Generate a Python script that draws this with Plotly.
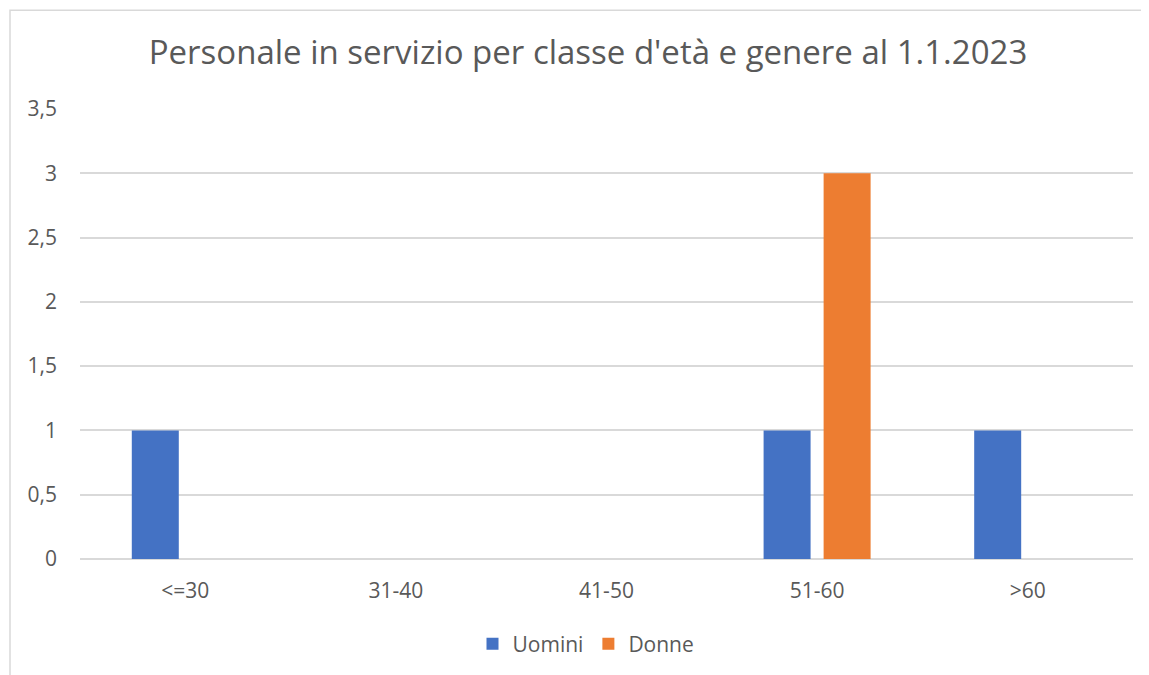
import plotly.graph_objects as go

categories = ["<=30", "31-40", "41-50", "51-60", ">60"]
uomini = [1, 0, 0, 1, 1]
donne = [0, 0, 0, 3, 0]
title_text = "Personale in servizio per classe d'età e genere al 1.1.2023"

FONT = "Open Sans"
TXT = "#595959"
GRID = "#d9d9d9"

# page body has an 8px margin; figure is sized/offset to compensate
W, H = 1141, 667
OFF = 8
PL, PR, PT, PB = 80, 1133, 109, 560  # plot area in page pixels

fig = go.Figure()
fig.add_trace(go.Bar(name="Uomini", x=categories, y=uomini, marker_color="#4472C4",
                     marker_line_width=0))
fig.add_trace(go.Bar(name="Donne", x=categories, y=donne, marker_color="#ED7D31",
                     marker_line_width=0))

pw = PR - PL
ph = PB - PT

fig.update_layout(
    width=W, height=H,
    paper_bgcolor="white", plot_bgcolor="white",
    margin=dict(l=PL - OFF, r=OFF + W - PR, t=PT - OFF, b=OFF + H - PB, pad=0),
    barmode="group", bargap=0.43, bargroupgap=0.217,
    separators=",.",
    font=dict(family=FONT, color=TXT, size=21),
    title=dict(text=title_text, x=(588 - OFF) / W, xanchor="center", xref="container",
               y=1 - (52 - OFF) / H, yanchor="middle", yref="container",
               font=dict(size=33, color=TXT, family=FONT)),
    legend=dict(orientation="h", x=(586 - PL) / pw, xanchor="center",
                y=(PB - 644) / ph, yanchor="middle",
                font=dict(size=21, color=TXT), itemwidth=30, traceorder="normal"),
    xaxis=dict(showgrid=False, showline=False, zeroline=False, ticks="",
               ticklabelstandoff=17, tickfont=dict(size=21, color=TXT)),
    yaxis=dict(range=[0, 3.5], dtick=0.5, tick0=0, showgrid=True, gridcolor=GRID, gridwidth=2,
               zeroline=True, zerolinecolor=GRID, zerolinewidth=2, showline=False,
               ticks="", ticklabelstandoff=22, tickfont=dict(size=21, color=TXT)),
    shapes=[dict(type="rect", xref="paper", yref="paper",
                 x0=(10 - PL) / pw, x1=(1148 - PL) / pw,
                 y0=(PB - 700) / ph, y1=(PB - 10) / ph,
                 line=dict(color=GRID, width=1.5), fillcolor="rgba(0,0,0,0)", layer="below")],
)

fig.write_html("out.html")
